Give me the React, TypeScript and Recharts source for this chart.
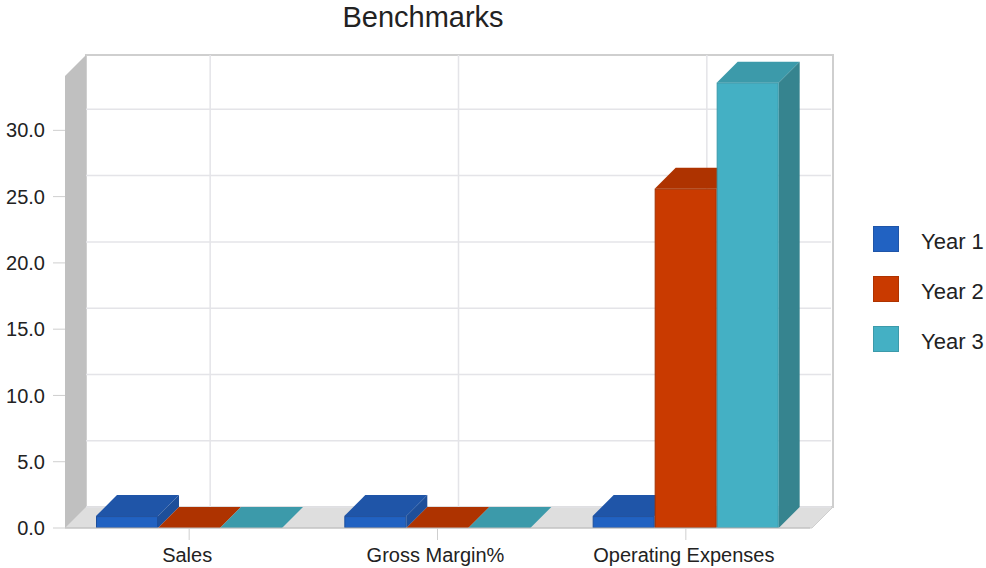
import React from "react";
import { BarChart, Bar, XAxis, YAxis, CartesianGrid, Legend, ReferenceArea } from "recharts";

const categories = ["Sales", "Gross Margin%", "Operating Expenses"];
const year1 = [0.9, 0.9, 0.9];
const year2 = [0, 0, 25.6];
const year3 = [0, 0, 33.6];
const valueTicks = [0, 5, 10, 15, 20, 25, 30];
const axisTop = 34.1;

const rows = categories.map((name, i) => ({ name, y1: year1[i], y2: year2[i], y3: year3[i] }));

// Depth of the fake 3D extrusion, in pixels.
const DEPTH = 21;
// The box runs a little past the last category band on its right side.
const WALL_OVERHANG = 2;
const FONT = '"Liberation Sans", Arial, sans-serif';

const palette: Record<string, Shade> = {
  y1: { front: "#2162C2", top: "#1F55A8", side: "#1E4F9A", edge: "#1C4E9C" },
  y2: { front: "#C93A00", top: "#AE3300", side: "#9C2E00", edge: "#A33000" },
  y3: { front: "#44B0C4", top: "#3C9AAA", side: "#36848F", edge: "#389AAB" },
};

type Shade = { front: string; top: string; side: string; edge: string };

const box = (shade: Shade) => (props: any) => {
  const { x, y, width, height } = props;
  return (
    <g>
      <polygon
        points={`${x},${y} ${x + DEPTH},${y - DEPTH} ${x + width + DEPTH},${y - DEPTH} ${x + width},${y}`}
        fill={shade.top}
      />
      <polygon
        points={`${x + width},${y} ${x + width + DEPTH},${y - DEPTH} ${x + width + DEPTH},${y + height - DEPTH} ${x + width},${y + height}`}
        fill={shade.side}
      />
      {height > 0 && (
        <rect x={x + 0.5} y={y + 0.5} width={width - 1} height={height - 1} fill={shade.front} stroke={shade.edge} />
      )}
    </g>
  );
};

// Left wall, floor and back wall of the box the bars stand in.
const Walls = (props: any) => {
  const { x, y, width, height } = props;
  const r = x + width + WALL_OVERHANG;
  const b = y + height;
  return (
    <g>
      <rect
        x={x + DEPTH}
        y={y - DEPTH}
        width={width + WALL_OVERHANG}
        height={height}
        fill="#FFFFFF"
        stroke="#CFCFCF"
        strokeWidth={2}
      />
      <polygon
        points={`${x},${y} ${x + DEPTH},${y - DEPTH} ${x + DEPTH},${b - DEPTH} ${x},${b}`}
        fill="#C0C0C0"
      />
      <polygon
        points={`${x},${b} ${x + DEPTH},${b - DEPTH} ${r + DEPTH},${b - DEPTH} ${r},${b}`}
        fill="#DEDEDE"
        stroke="#CFCFCF"
      />
    </g>
  );
};

const backLine = (props: any) => {
  const { x1, y1, x2, y2, key } = props;
  return (
    <line key={key} x1={x1 + DEPTH} y1={y1 - DEPTH} x2={x2 + DEPTH} y2={y2 - DEPTH} stroke="#E4E4E8" strokeWidth={1.5} />
  );
};

const LegendList = ({ payload }: any) => (
  <div style={{ fontFamily: FONT, fontSize: 22, color: "#222" }}>
    {(payload ?? []).map((entry: any) => (
      <div key={entry.value} style={{ display: "flex", alignItems: "center", height: 50 }}>
        <span
          style={{
            width: 24,
            height: 24,
            background: entry.color,
            border: `1px solid ${palette[entry.dataKey]?.top ?? "#888"}`,
            display: "inline-block",
            marginRight: 22,
          }}
        />
        <span style={{ position: "relative", top: 3 }}>{entry.value}</span>
      </div>
    ))}
  </div>
);

export default function App() {
  return (
    <div style={{ position: "absolute", left: 0, top: 0, width: 986, height: 568, background: "#fff" }}>
      <div
        style={{
          position: "absolute",
          left: 0,
          width: 846,
          top: 0,
          textAlign: "center",
          fontFamily: FONT,
          fontSize: 29,
          lineHeight: "34px",
          color: "#222",
        }}
      >
        Benchmarks
      </div>
      <BarChart
        width={986}
        height={568}
        data={rows}
        margin={{ top: 76, right: 63, bottom: 0, left: 0 }}
        barSize={62}
        barGap={0}
        style={{ position: "absolute", left: 0, top: 0 }}
      >
        <ReferenceArea y1={0} y2={axisTop} shape={Walls} ifOverflow="visible" zIndex={-200} />
        <CartesianGrid horizontal={backLine} vertical={backLine} syncWithTicks zIndex={-100} />
        <XAxis
          dataKey="name"
          height={40}
          interval={0}
          tick={{ fontFamily: FONT, fontSize: 20, fill: "#222", dx: -2 }}
          tickSize={12}
          tickMargin={8}
          tickLine={{ stroke: "#CFCFCF" }}
          axisLine={{ stroke: "#BDBDBD" }}
        />
        <YAxis
          width={65}
          type="number"
          domain={[0, axisTop]}
          ticks={valueTicks}
          tickFormatter={(v: number) => v.toFixed(1)}
          tick={{ fontFamily: FONT, fontSize: 20, fill: "#222" }}
          tickSize={12}
          tickMargin={8}
          tickLine={{ stroke: "#CFCFCF" }}
          axisLine={false}
        />
        <Legend
          layout="vertical"
          align="right"
          verticalAlign="top"
          content={LegendList}
          wrapperStyle={{ position: "absolute", left: 873, top: 214, width: 113, right: "auto" }}
        />
        <Bar dataKey="y1" name="Year 1" fill={palette.y1.front} shape={box(palette.y1)} isAnimationActive={false} />
        <Bar dataKey="y2" name="Year 2" fill={palette.y2.front} shape={box(palette.y2)} isAnimationActive={false} />
        <Bar dataKey="y3" name="Year 3" fill={palette.y3.front} shape={box(palette.y3)} isAnimationActive={false} />
      </BarChart>
    </div>
  );
}
